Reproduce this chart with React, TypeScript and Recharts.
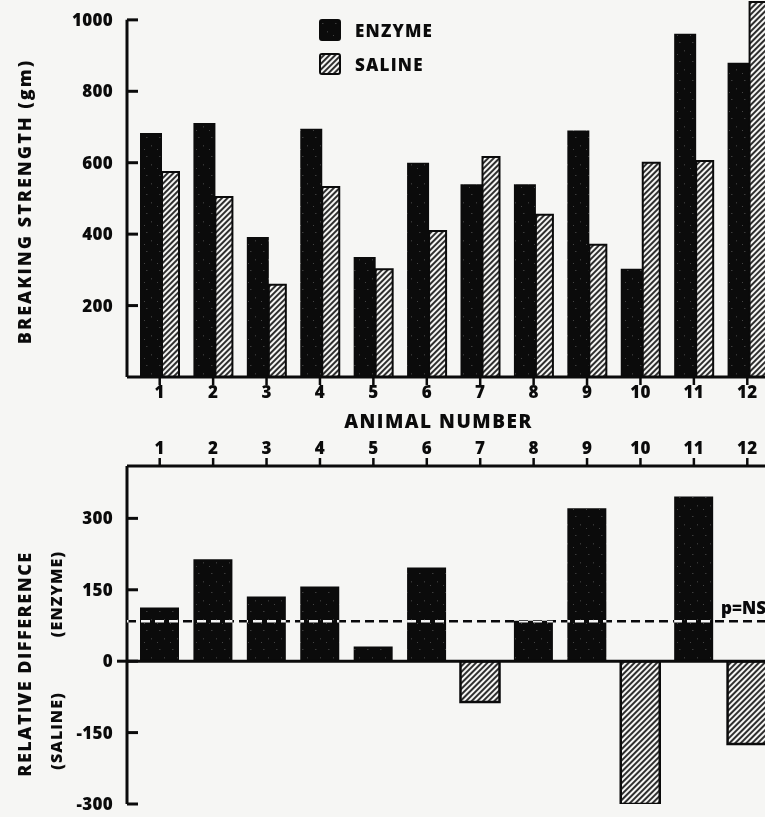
import React from 'react';
import { ComposedChart, Bar, Cell, XAxis, YAxis, ReferenceLine, Legend, Label } from 'recharts';

const animals = ['1', '2', '3', '4', '5', '6', '7', '8', '9', '10', '11', '12'];
const enzyme = [683, 711, 392, 695, 336, 600, 540, 540, 690, 303, 961, 880];
const saline = [574, 504, 258, 532, 302, 409, 616, 454, 370, 600, 605, 1050];
const relDiff = [113, 214, 136, 157, 31, 197, -86, 85, 321, -300, 346, -174];
const strengthTicks = [200, 400, 600, 800, 1000];
const diffTicks = [-300, -150, 0, 150, 300];
const pValueLevel = 84;

const INK = '#0b0b0b';
const BG = '#f6f6f4';
const FONT = '"Open Sans", "DejaVu Sans", sans-serif';

const strengthData = animals.map((animal, i) => ({ animal, enzyme: enzyme[i], saline: saline[i] }));
const diffData = animals.map((animal, i) => ({ animal, diff: relDiff[i] }));

const tickText = { fill: INK, fontFamily: FONT, fontWeight: 800, fontSize: 17, letterSpacing: 0.3 };

// y ticks: marks point into the plot, labels sit left of the axis
function YTick({ x, y, payload, zeroExtend }: any) {
  const ax = x + 14;
  return (
    <g>
      <line x1={ax} x2={ax + 11} y1={y} y2={y} stroke={INK} strokeWidth={3} />
      {zeroExtend && payload.value === 0 && (
        <line x1={ax - 10} x2={ax} y1={y} y2={y} stroke={INK} strokeWidth={3} />
      )}
      <text x={x} y={y} dy="0.36em" textAnchor="end" {...tickText}>
        {payload.value}
      </text>
    </g>
  );
}

function LegendBox({ payload }: any) {
  return (
    <div>
      {(payload || []).map((entry: any, i: number) => (
        <div
          key={entry.value}
          style={{ display: 'flex', alignItems: 'center', height: 22, marginBottom: i === 0 ? 12 : 0 }}
        >
          <svg width={22} height={22}>
            <rect x={1} y={1} width={20} height={20} rx={2} fill={entry.color} stroke={INK} strokeWidth={2} />
          </svg>
          <span
            style={{
              marginLeft: 14,
              fontFamily: FONT,
              fontWeight: 800,
              fontSize: 17,
              letterSpacing: 1.2,
              color: INK,
            }}
          >
            {entry.value}
          </span>
        </div>
      ))}
    </div>
  );
}

function RotatedTitle({ viewBox, lines }: any) {
  return (
    <g>
      {lines.map((l: any) => {
        const cx = l.x;
        const cy = viewBox.y + viewBox.height / 2 + l.dy;
        return (
          <text
            key={l.text}
            x={cx}
            y={cy}
            transform={`rotate(-90 ${cx} ${cy})`}
            textAnchor="middle"
            dominantBaseline="central"
            fill={INK}
            fontFamily={FONT}
            fontWeight={800}
            fontSize={l.size}
            letterSpacing={l.spacing}
          >
            {l.text}
          </text>
        );
      })}
    </g>
  );
}

function StrengthChart() {
  return (
    <ComposedChart
      width={774}
      height={436}
      data={strengthData}
      barGap={0}
      margin={{ top: 2, right: 0, bottom: 0, left: 0 }}
    >
      <XAxis
        dataKey="animal"
        height={59}
        padding={{ left: 6, right: 0 }}
        interval={0}
        tickSize={8}
        tickMargin={1}
        axisLine={{ stroke: INK, strokeWidth: 3 }}
        tickLine={{ stroke: INK, strokeWidth: 2.5 }}
        tick={tickText}
      >
        <Label
          value="ANIMAL NUMBER"
          position="insideBottom"
          offset={8}
          dx={-12}
          fill={INK}
          fontFamily={FONT}
          fontWeight={800}
          fontSize={19}
          letterSpacing={1.5}
        />
      </XAxis>
      <XAxis xAxisId="frame" type="number" domain={[0, 12]} hide />
      <YAxis
        width={127}
        domain={[0, 1050]}
        ticks={strengthTicks}
        interval={0}
        axisLine={false}
        tickLine={false}
        tickSize={6}
        tickMargin={8}
        tick={(p: any) => <YTick {...p} />}
      >
        <Label
          content={(p: any) => (
            <RotatedTitle
              viewBox={p.viewBox}
              lines={[{ text: 'BREAKING STRENGTH (gm)', x: 24, dy: 12, size: 18, spacing: 2 }]}
            />
          )}
        />
      </YAxis>
      <ReferenceLine
        xAxisId="frame"
        segment={[{ x: 0, y: 0 }, { x: 0, y: 1000 }]}
        stroke={INK}
        strokeWidth={3}
      />
      <Legend
        verticalAlign="middle"
        align="center"
        content={(p: any) => <LegendBox {...p} />}
        wrapperStyle={{ left: 319, top: 19, width: 170, height: 60 }}
      />
      <Bar dataKey="enzyme" name="ENZYME" barSize={22} fill="url(#speck)" isAnimationActive={false} />
      <Bar
        dataKey="saline"
        name="SALINE"
        barSize={17}
        fill="url(#hatch)"
        stroke={INK}
        strokeWidth={2}
        isAnimationActive={false}
      />
    </ComposedChart>
  );
}

function DifferenceChart() {
  return (
    <ComposedChart
      width={774}
      height={380}
      data={diffData}
      margin={{ top: 0, right: 0, bottom: 12, left: 0 }}
    >
      <XAxis
        dataKey="animal"
        orientation="top"
        height={30}
        padding={{ left: 6, right: 0 }}
        interval={0}
        tickSize={8}
        tickMargin={4}
        axisLine={{ stroke: INK, strokeWidth: 3 }}
        tickLine={{ stroke: INK, strokeWidth: 2.5 }}
        tick={tickText}
      />
      <YAxis
        width={127}
        domain={[-300, 410]}
        ticks={diffTicks}
        interval={0}
        allowDataOverflow
        axisLine={{ stroke: INK, strokeWidth: 3 }}
        tickLine={false}
        tickSize={6}
        tickMargin={8}
        tick={(p: any) => <YTick {...p} zeroExtend />}
      >
        <Label
          content={(p: any) => (
            <RotatedTitle
              viewBox={p.viewBox}
              lines={[
                { text: 'RELATIVE DIFFERENCE', x: 24, dy: 29, size: 18, spacing: 1.5 },
                { text: '(ENZYME)', x: 56, dy: -41, size: 16, spacing: 1 },
                { text: '(SALINE)', x: 56, dy: 96, size: 16, spacing: 1 },
              ]}
            />
          )}
        />
      </YAxis>
      <Bar dataKey="diff" barSize={39} isAnimationActive={false}>
        {relDiff.map((v, i) => (
          <Cell
            key={`d-${i}`}
            fill={v >= 0 ? 'url(#speck)' : 'url(#hatch)'}
            stroke={v >= 0 ? 'none' : INK}
            strokeWidth={v >= 0 ? 0 : 2.5}
          />
        ))}
      </Bar>
      <ReferenceLine y={0} stroke={INK} strokeWidth={3} />
    </ComposedChart>
  );
}

// same plot box as DifferenceChart; drawn white and blended with "difference"
// so the dashes read black on paper and white across the dark bars
function SignificanceOverlay() {
  return (
    <ComposedChart
      width={774}
      height={380}
      data={diffData}
      margin={{ top: 30, right: 0, bottom: 12, left: 127 }}
    >
      <XAxis dataKey="animal" hide />
      <YAxis domain={[-300, 410]} allowDataOverflow hide />
      <ReferenceLine
        y={pValueLevel}
        stroke="#ffffff"
        strokeWidth={2.5}
        strokeDasharray="9 5"
        label={(p: any) => (
          <text
            x={p.viewBox.x + p.viewBox.width - 8}
            y={p.viewBox.y - 7}
            textAnchor="end"
            fill="#ffffff"
            fontFamily={FONT}
            fontWeight={800}
            fontSize={17}
          >
            p=NS
          </text>
        )}
      />
    </ComposedChart>
  );
}

export default function App() {
  return (
    <div
      style={{
        position: 'absolute',
        left: 0,
        top: 0,
        width: 765,
        height: 817,
        overflow: 'hidden',
        background: BG,
      }}
    >
      <svg width={0} height={0} style={{ position: 'absolute' }}>
        <defs>
          <pattern id="speck" width="13" height="19" patternUnits="userSpaceOnUse">
            <rect width="13" height="19" fill={INK} />
            <rect x="3" y="4" width="1.5" height="1" fill="#3c3c3c" />
            <rect x="8" y="12" width="1" height="1.5" fill="#363636" />
            <rect x="1" y="16" width="1" height="1" fill="#444" />
          </pattern>
          <pattern id="hatch" width="4" height="4" patternUnits="userSpaceOnUse" patternTransform="rotate(45)">
            <rect width="4" height="4" fill={BG} />
            <line x1="1" y1="0" x2="1" y2="4" stroke={INK} strokeWidth="1.7" />
          </pattern>
        </defs>
      </svg>
      <div style={{ position: 'absolute', left: 0, top: 0 }}>
        <StrengthChart />
      </div>
      <div style={{ position: 'absolute', left: 0, top: 436 }}>
        <DifferenceChart />
      </div>
      <div style={{ position: 'absolute', left: 0, top: 436, mixBlendMode: 'difference', pointerEvents: 'none' }}>
        <SignificanceOverlay />
      </div>
    </div>
  );
}
